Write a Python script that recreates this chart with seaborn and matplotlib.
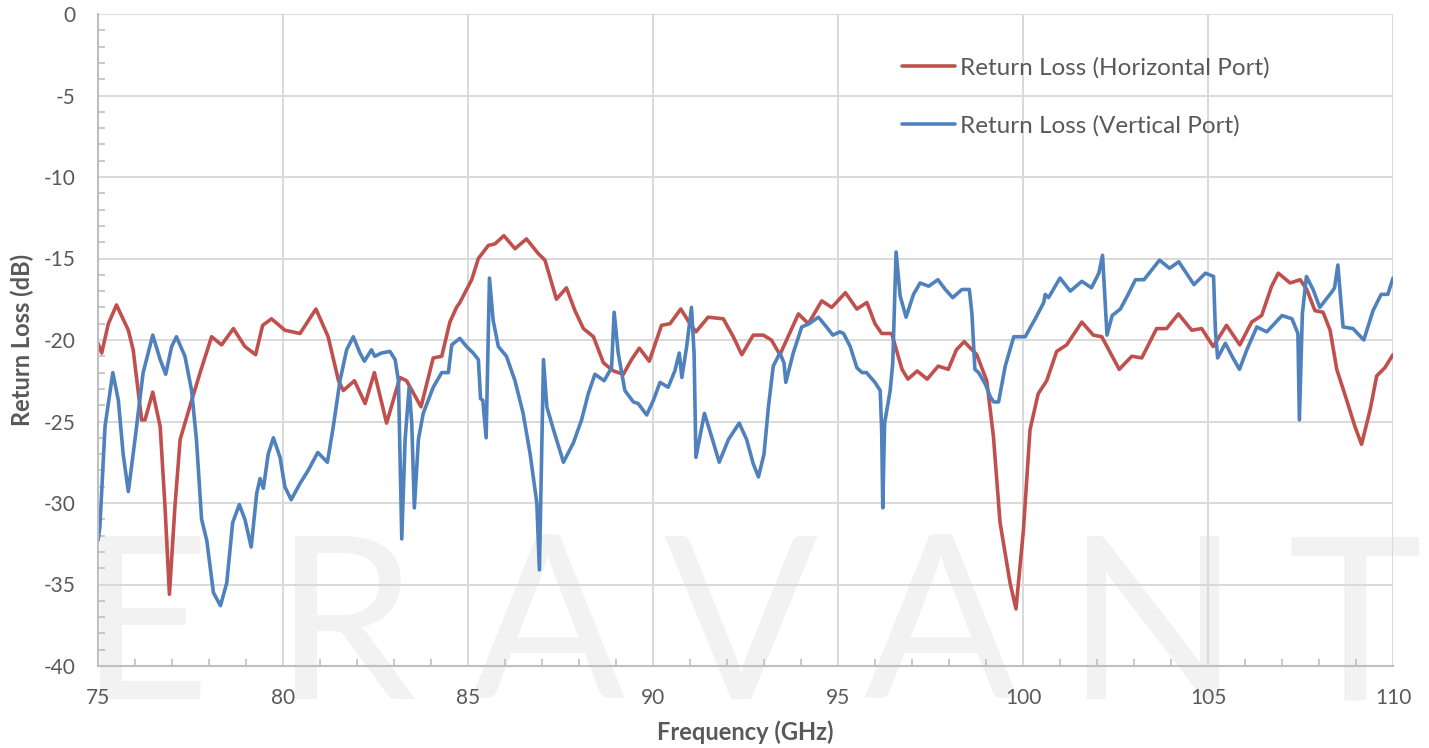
import pandas as pd
import seaborn as sns
import matplotlib.pyplot as plt
from matplotlib.ticker import MultipleLocator

# Return loss, horizontal port (GHz, dB)
freq_h = [75.0, 75.1, 75.28, 75.5, 75.82, 75.95, 76.18, 76.27, 76.48, 76.68, 76.81, 76.93, 77.08, 77.22,
          77.48, 77.76, 78.07, 78.34, 78.66, 78.97, 79.26, 79.45, 79.69, 80.05, 80.46, 80.89, 81.22, 81.5,
          81.63, 81.93, 82.22, 82.47, 82.8, 83.16, 83.34, 83.73, 84.06, 84.29, 84.51, 84.69, 84.78, 85.1,
          85.28, 85.55, 85.73, 85.97, 86.27, 86.58, 86.9, 87.08, 87.39, 87.66, 87.89, 88.12, 88.39, 88.66,
          88.93, 89.2, 89.42, 89.63, 89.9, 90.23, 90.46, 90.75, 91.0, 91.16, 91.49, 91.9, 92.17, 92.4,
          92.71, 92.98, 93.2, 93.43, 93.93, 94.2, 94.56, 94.83, 95.2, 95.51, 95.78, 96.0, 96.18, 96.45,
          96.73, 96.89, 97.14, 97.41, 97.71, 97.98, 98.2, 98.41, 98.75, 99.02, 99.2, 99.38, 99.65, 99.81,
          100.01, 100.19, 100.41, 100.64, 100.91, 101.18, 101.59, 101.9, 102.13, 102.6, 102.94, 103.21,
          103.61, 103.88, 104.2, 104.56, 104.83, 105.14, 105.5, 105.86, 106.18, 106.45, 106.72, 106.9,
          107.22, 107.49, 107.67, 107.89, 108.11, 108.3, 108.48, 108.75, 108.97, 109.15, 109.38, 109.56,
          109.78, 110.0]
rl_h = [-20.2, -20.8, -19.0, -17.85, -19.4, -20.6, -24.9, -24.9, -23.2, -25.3, -30.2, -35.6, -30.2, -26.1,
        -24.1, -22.0, -19.8, -20.3, -19.3, -20.4, -20.9, -19.1, -18.7, -19.4, -19.6, -18.1, -19.8, -22.5,
        -23.1, -22.5, -23.9, -22.0, -25.1, -22.3, -22.5, -24.1, -21.1, -21.0, -18.9, -18.0, -17.7, -16.3,
        -15.0, -14.2, -14.1, -13.6, -14.4, -13.8, -14.7, -15.1, -17.5, -16.8, -18.2, -19.3, -19.8, -21.4,
        -21.9, -22.1, -21.2, -20.5, -21.3, -19.1, -19.0, -18.1, -19.0, -19.5, -18.6, -18.7, -19.8, -20.9,
        -19.7, -19.7, -20.0, -20.9, -18.4, -19.0, -17.6, -18.0, -17.1, -18.1, -17.7, -19.0, -19.6, -19.6,
        -21.8, -22.4, -21.9, -22.4, -21.6, -21.8, -20.6, -20.1, -20.9, -22.5, -25.9, -31.2, -34.9, -36.5,
        -31.7, -25.5, -23.3, -22.5, -20.7, -20.3, -18.9, -19.7, -19.8, -21.8, -21.0, -21.1,
        -19.3, -19.3, -18.4, -19.4, -19.3, -20.4, -19.1, -20.3, -18.9, -18.5, -16.7, -15.9,
        -16.5, -16.3, -16.9, -18.2, -18.3, -19.4, -21.8, -23.7, -25.3, -26.4, -24.3, -22.2,
        -21.7, -20.9]

# Return loss, vertical port (GHz, dB)
freq_v = [75.0, 75.05, 75.19, 75.4, 75.55, 75.68, 75.82, 76.0, 76.22, 76.48, 76.68, 76.83, 76.99, 77.12,
          77.35, 77.53, 77.66, 77.8, 77.94, 78.12, 78.31, 78.48, 78.64, 78.82, 78.97, 79.14, 79.29, 79.38,
          79.47, 79.6, 79.74, 79.92, 80.05, 80.22, 80.46, 80.68, 80.94, 81.2, 81.36, 81.54, 81.72, 81.9,
          82.08, 82.2, 82.39, 82.48, 82.66, 82.89, 83.03, 83.12, 83.21, 83.3, 83.41, 83.48, 83.55, 83.66,
          83.79, 84.06, 84.29, 84.47, 84.56, 84.78, 84.96, 85.14, 85.28, 85.34, 85.4, 85.49, 85.58, 85.68,
          85.82, 86.04, 86.27, 86.49, 86.68, 86.86, 86.93, 86.99, 87.04, 87.13, 87.31, 87.58, 87.85, 88.07,
          88.25, 88.43, 88.68, 88.88, 88.95, 89.06, 89.24, 89.47, 89.6, 89.83, 90.01, 90.19, 90.41, 90.59,
          90.71, 90.78, 90.91, 91.04, 91.11, 91.16, 91.39, 91.58, 91.79, 92.04, 92.33, 92.53, 92.71, 92.85,
          93.0, 93.12, 93.25, 93.43, 93.54, 93.59, 93.79, 94.02, 94.22, 94.47, 94.69, 94.86, 95.05, 95.15,
          95.33, 95.51, 95.65, 95.77, 96.0, 96.14, 96.18, 96.21, 96.26, 96.41, 96.48, 96.57, 96.68, 96.84,
          97.04, 97.22, 97.45, 97.7, 97.9, 98.1, 98.35, 98.55, 98.62, 98.7, 98.8, 98.98, 99.12, 99.21,
          99.34, 99.52, 99.75, 100.06, 100.33, 100.56, 100.6, 100.69, 100.87, 101.0, 101.28, 101.59, 101.85,
          102.05, 102.15, 102.21, 102.27, 102.41, 102.63, 102.82, 103.04, 103.27, 103.69, 103.96, 104.21,
          104.62, 104.93, 105.15, 105.2, 105.26, 105.47, 105.65, 105.85, 106.05, 106.32, 106.59, 107.0,
          107.27, 107.43, 107.47, 107.55, 107.66, 107.84, 108.02, 108.33, 108.42, 108.51, 108.65, 108.92,
          109.21, 109.46, 109.68, 109.86, 110.0]
rl_v = [-32.3, -31.5, -25.3, -22.0, -23.7, -27.0, -29.3, -26.1, -22.0, -19.7, -21.2, -22.1, -20.4, -19.8,
        -21.0, -23.1, -26.1, -31.0, -32.3, -35.5, -36.3, -34.9, -31.2, -30.1, -31.0, -32.7, -29.4, -28.5,
        -29.1, -27.0, -26.0, -27.2, -29.0, -29.8, -28.8, -28.0, -26.9, -27.5, -25.3, -22.5, -20.6, -19.8,
        -20.8, -21.3, -20.6, -21.0, -20.8, -20.7, -21.2, -22.5, -32.2, -26.1, -22.9, -25.1, -30.3, -26.1,
        -24.5, -22.9, -22.0, -22.0, -20.3, -19.9, -20.4, -20.8, -21.2, -23.6, -23.7, -26.0, -16.2, -18.8,
        -20.4, -21.0, -22.5, -24.5, -27.0, -30.0, -34.1, -27.0, -21.2, -24.1, -25.5, -27.5, -26.3, -24.9,
        -23.3, -22.1, -22.5, -21.7, -18.3, -20.8, -23.1, -23.8, -23.9, -24.6, -23.7, -22.6, -22.9, -21.9,
        -20.8, -22.3, -20.4, -18.0, -20.8, -27.2, -24.5, -25.9, -27.5, -26.1, -25.1, -26.1, -27.6, -28.4,
        -27.0, -24.1, -21.6, -20.8, -21.4, -22.6, -20.8, -19.2, -19.0, -18.6, -19.2, -19.7, -19.5, -19.6,
        -20.4, -21.7, -22.0, -22.0, -22.6, -23.1, -25.5, -30.3, -25.1, -23.1, -21.4, -14.6, -17.3, -18.6,
        -17.2, -16.5, -16.7, -16.3, -16.9, -17.4, -16.9, -16.9, -18.4, -21.8, -22.0, -22.7, -23.5, -23.8,
        -23.8, -21.6, -19.8, -19.8, -18.7, -17.7, -17.2, -17.4, -16.7, -16.2, -17.0, -16.4, -16.8,
        -15.9, -14.8, -17.3, -19.7, -18.5, -18.1, -17.3, -16.3, -16.3, -15.1, -15.6, -15.2,
        -16.6, -15.9, -16.1, -19.4, -21.1, -20.2, -21.0, -21.8, -20.6, -19.2, -19.5, -18.5,
        -18.7, -19.6, -24.9, -18.4, -16.1, -16.9, -18.0, -17.1, -16.8, -15.4, -19.2, -19.3,
        -20.0, -18.2, -17.2, -17.2, -16.2]

labels = ['Return Loss (Horizontal Port)', 'Return Loss (Vertical Port)']
colors = ['#C0504D', '#4F81BD']
watermark = ['E', 'R', 'A', 'V', 'A', 'N', 'T']
watermark_x = [144, 345, 547, 740, 940, 1152, 1355]

df = pd.concat([
    pd.DataFrame({'Frequency': freq_h, 'RL': rl_h, 'Port': labels[0]}),
    pd.DataFrame({'Frequency': freq_v, 'RL': rl_v, 'Port': labels[1]}),
])

sns.set_theme(style='white')
plt.rcParams['font.family'] = ['Lato', 'DejaVu Sans']
plt.rcParams['axes.unicode_minus'] = False

W, H = 1429, 748
fig = plt.figure(figsize=(W / 100, H / 100), dpi=100)
ax = fig.add_axes([98 / W, 1 - 666 / H, 1295 / W, 652 / H])
ax.set_facecolor('none')

# watermark behind the plot area
for ch, px in zip(watermark, watermark_x):
    fig.text(px / W, 1 - 699 / H, ch, ha='center', va='baseline', fontsize=164,
             fontweight='normal', color='#F2F2F2', zorder=-5)

sns.lineplot(data=df, x='Frequency', y='RL', hue='Port', palette=colors,
             estimator=None, sort=False, linewidth=2.6, ax=ax)
for line in ax.get_lines():
    line.set_solid_joinstyle('round')
    line.set_solid_capstyle('round')

ax.set_xlim(75, 110)
ax.set_ylim(-40, 0)
ax.xaxis.set_major_locator(MultipleLocator(5))
ax.yaxis.set_major_locator(MultipleLocator(5))
ax.xaxis.set_minor_locator(MultipleLocator(1))
ax.yaxis.set_minor_locator(MultipleLocator(1))
ax.grid(True, which='major', color='#D9D9D9', linewidth=1.4)
ax.set_axisbelow(True)

for side in ['top', 'right']:
    ax.spines[side].set_visible(False)
for side in ['left', 'bottom']:
    ax.spines[side].set_color('#BFBFBF')
    ax.spines[side].set_linewidth(1.5)

ax.tick_params(which='both', direction='in', color='#BFBFBF', width=1.2)
ax.tick_params(which='major', length=0, pad=16, labelsize=15, labelcolor='#595959')
ax.tick_params(which='minor', length=5)
ax.tick_params(axis='x', which='both', bottom=True)
ax.tick_params(axis='y', which='both', left=True)

ax.set_xlabel('Frequency (GHz)', fontsize=17, fontweight='bold', color='#595959')
ax.set_ylabel('Return Loss (dB)', fontsize=17, fontweight='bold', color='#595959')
ax.xaxis.set_label_coords(0.5, (666 - 720) / 652)
ax.yaxis.set_label_coords((34 - 98) / 1295, 0.5)

handles, _ = ax.get_legend_handles_labels()
ax.legend(handles=handles, labels=labels, loc='upper left',
          bbox_to_anchor=(902 / W, 1 - 57 / H), bbox_transform=fig.transFigure,
          frameon=False, fontsize=17.5, handlelength=2.2, handletextpad=0.2,
          labelspacing=1.5, borderpad=0, borderaxespad=0, labelcolor='#595959')

fig.savefig('out.png', dpi=100)
